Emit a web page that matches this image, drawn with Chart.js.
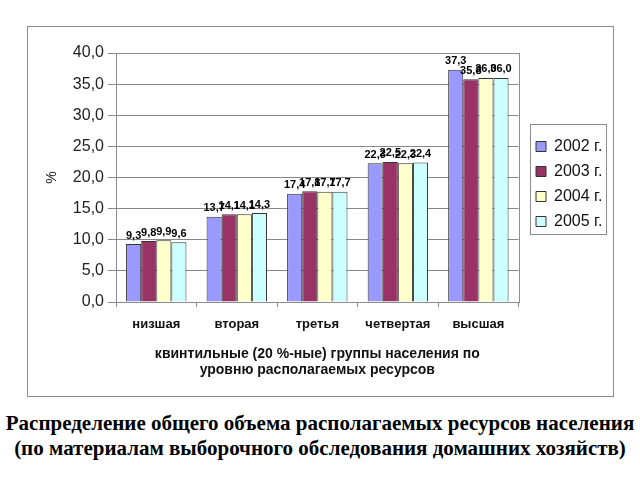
<!DOCTYPE html>
<html><head><meta charset="utf-8">
<script src="https://cdn.jsdelivr.net/npm/chart.js@4/dist/chart.umd.min.js"></script>
<style>
body{margin:0;background:#fff;}
#wrap{position:relative;width:640px;height:480px;background:#fff;}
#box{position:absolute;left:0;top:0;width:640px;height:400px;}
#cap{position:absolute;left:0;top:411px;width:640px;text-align:center;font:bold 21px "Liberation Serif","Times New Roman",serif;line-height:25px;color:#000;white-space:nowrap;}
</style></head><body>
<div id="wrap">
<div id="box"><canvas id="c" width="640" height="400"></canvas></div>
<div id="cap">Распределение общего объема располагаемых ресурсов населения<br>(по материалам выборочного обследования домашних хозяйств)</div>
</div>
<script>
const categories = ['низшая', 'вторая', 'третья', 'четвертая', 'высшая'];
const seriesNames = ['2002 г.', '2003 г.', '2004 г.', '2005 г.'];
const values2002 = [9.3, 13.7, 17.4, 22.3, 37.3];
const values2003 = [9.8, 14.1, 17.8, 22.5, 35.8];
const values2004 = [9.9, 14.1, 17.7, 22.3, 36.0];
const values2005 = [9.6, 14.3, 17.7, 22.4, 36.0];
const yTicks = [0, 5, 10, 15, 20, 25, 30, 35, 40];
const axisTitleX = ['квинтильные (20 %-ные) группы населения по', 'уровню располагаемых ресурсов'];
const axisTitleY = '%';

const colors = ['#9999FF', '#993366', '#FFFFCC', '#CCFFFF'];
const allValues = [values2002, values2003, values2004, values2005];
const fmt = v => v.toFixed(1).replace('.', ',');

const FONT = 'Arial, "Liberation Sans", sans-serif';

const helper = {
  id: 'helper',
  afterLayout(chart) {
    const lg = chart.legend;
    const dx = 536 - lg.options.labels.padding - lg.left;
    lg.left += dx; lg.right += dx;
    const dy = -34;
    lg.top += dy; lg.bottom += dy;
  },
  beforeDraw(chart) {
    const ctx = chart.ctx;
    ctx.save();
    ctx.fillStyle = '#fff';
    ctx.fillRect(0, 0, chart.width, chart.height);
    ctx.strokeStyle = '#8c8c8c';
    ctx.lineWidth = 1;
    ctx.strokeRect(27.5, 26.5, 586, 370);
    ctx.restore();
  },
  afterDatasetsDraw(chart) {
    const ctx = chart.ctx;
    const a = chart.chartArea;
    ctx.save();
    ctx.strokeStyle = '#8c8c8c';
    ctx.lineWidth = 1;
    ctx.strokeRect(Math.round(a.left) + 0.5, Math.round(a.top) + 0.5, Math.round(a.right - a.left), Math.round(a.bottom - a.top));
    ctx.fillStyle = '#000';
    ctx.font = 'bold 11px ' + FONT;
    ctx.textAlign = 'center';
    ctx.textBaseline = 'bottom';
    chart.data.datasets.forEach((ds, di) => {
      const meta = chart.getDatasetMeta(di);
      meta.data.forEach((bar, i) => {
        ctx.fillText(fmt(ds.data[i]), bar.x, bar.y - 3);
      });
    });
    ctx.restore();
  },
  afterDraw(chart) {
    const lg = chart.legend;
    const hb = lg.legendHitBoxes;
    if (!hb || !hb.length) return;
    const ctx = chart.ctx;
    const l = Math.min(...hb.map(h => h.left));
    const r = Math.max(...hb.map(h => h.left + h.width));
    const t = Math.min(...hb.map(h => h.top));
    const b = Math.max(...hb.map(h => h.top + h.height));
    ctx.save();
    ctx.strokeStyle = '#8c8c8c';
    ctx.lineWidth = 1;
    const top = Math.round(t - 15), bot = Math.round(b + 4);
    ctx.strokeRect(Math.round(l - 6) + 0.5, top + 0.5, Math.round(r - l + 10), bot - top);
    ctx.restore();
  }
};

new Chart(document.getElementById('c'), {
  type: 'bar',
  data: {
    labels: categories,
    datasets: seriesNames.map((name, i) => ({
      label: name,
      data: allValues[i],
      backgroundColor: colors[i],
      borderColor: '#333',
      borderWidth: 1,
      categoryPercentage: 0.75,
      barPercentage: 1.0
    }))
  },
  options: {
    responsive: false,
    animation: false,
    layout: { padding: { left: 40, top: 53, right: 36, bottom: 17 } },
    plugins: {
      tooltip: { enabled: false },
      legend: {
        position: 'right',
        maxWidth: 90,
        labels: {
          boxWidth: 10,
          boxHeight: 10,
          padding: 9,
          color: '#111',
          font: { family: FONT, size: 16 }
        }
      }
    },
    scales: {
      x: {
        offset: true,
        grid: { drawOnChartArea: false, drawTicks: true, tickLength: 5, color: '#888', offset: true },
        border: { color: '#888' },
        ticks: { color: '#111', padding: 10, font: { family: FONT, size: 13, weight: 'bold' } },
        title: { display: true, text: axisTitleX, color: '#111', padding: { top: 4, bottom: 4 }, font: { family: FONT, size: 14, weight: 'bold' } },
        afterFit: s => { s.height = 81; }
      },
      y: {
        min: 0, max: 40,
        afterBuildTicks: s => { s.ticks = yTicks.map(v => ({ value: v })); },
        grid: { color: '#888', tickLength: 8 },
        border: { color: '#666' },
        ticks: { color: '#222', padding: 4, font: { family: FONT, size: 16 }, callback: v => fmt(v) },
        title: { display: true, text: axisTitleY, color: '#222', padding: 4, font: { family: FONT, size: 14 } },
        afterFit: s => { s.width = 76; }
      }
    }
  },
  plugins: [helper]
});
</script>
</body></html>
